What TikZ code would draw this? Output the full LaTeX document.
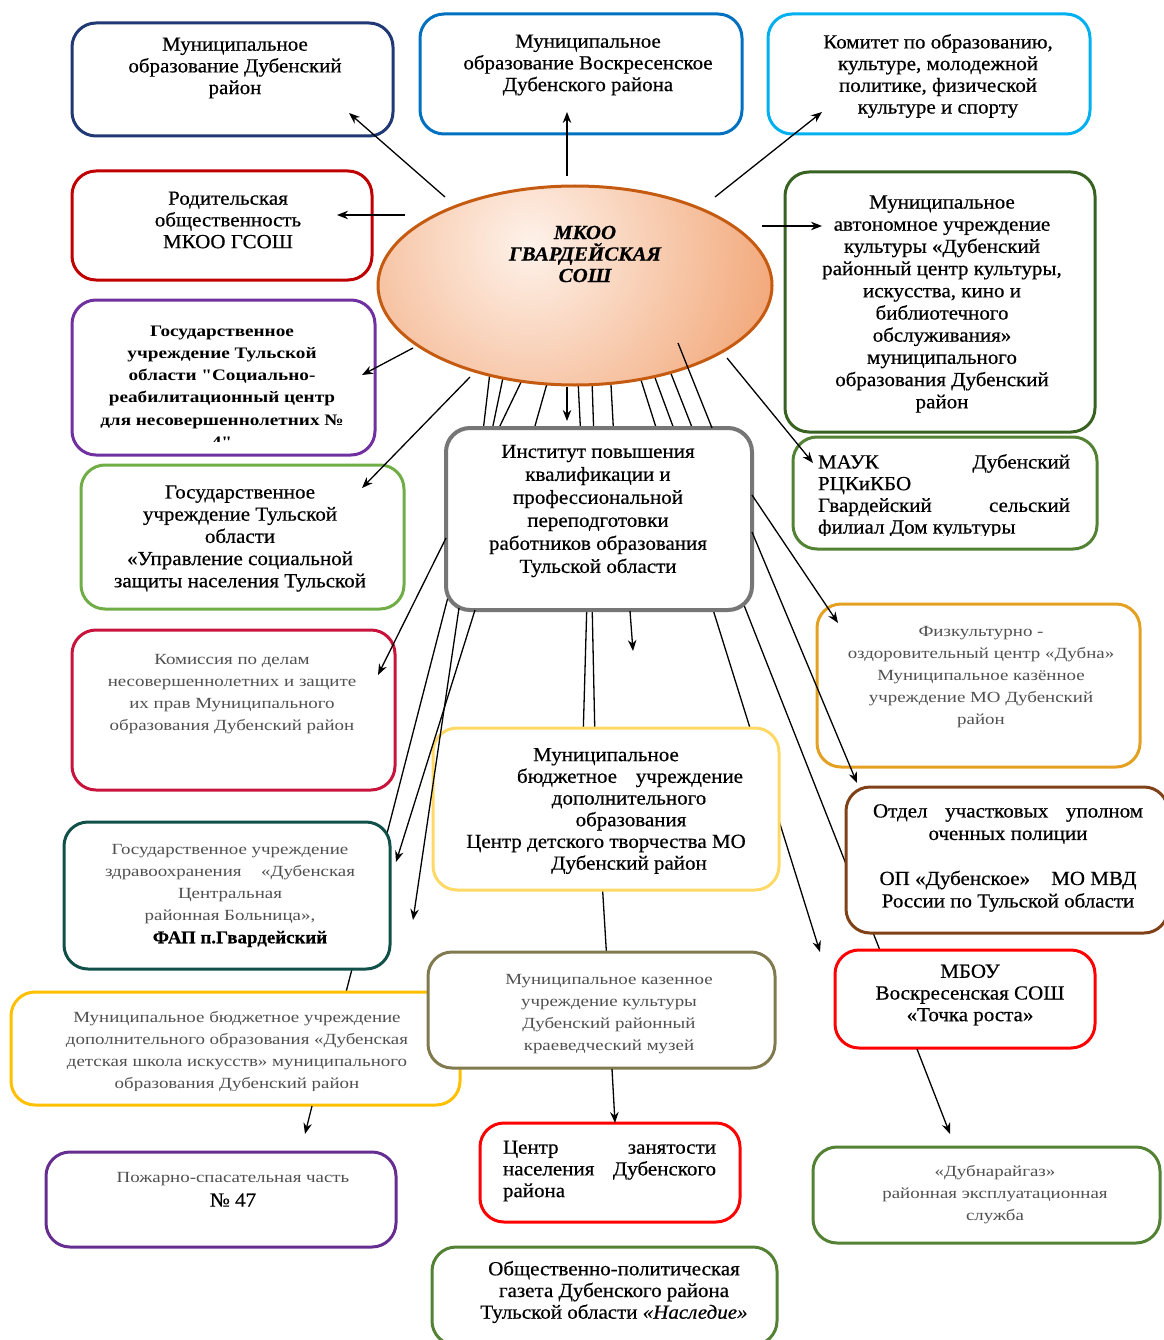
\documentclass[tikz,border=0pt]{standalone}
\usepackage{fontspec}
\setmainfont{Liberation Serif}[FakeStretch=1.05,FakeBold=0.5]
\newfontfamily\smfam{Liberation Serif}[FakeStretch=1.22]
\newfontfamily\bdfam{Liberation Serif}[FakeStretch=1.2]
\usetikzlibrary{shapes.geometric,arrows.meta}
\pgfdeclarelayer{bg}
\pgfsetlayers{bg,main}
\definecolor{cNavy}{RGB}{32,56,115}
\definecolor{cBlue}{RGB}{0,112,192}
\definecolor{cLBlue}{RGB}{0,176,240}
\definecolor{cDRed}{RGB}{192,0,0}
\definecolor{cDGreen}{RGB}{56,98,34}
\definecolor{cPurple}{RGB}{112,48,160}
\definecolor{cGray}{RGB}{118,118,118}
\definecolor{cGreen}{RGB}{84,130,53}
\definecolor{cLGreen}{RGB}{112,173,71}
\definecolor{cCrimson}{RGB}{200,20,60}
\definecolor{cGold}{RGB}{228,160,32}
\definecolor{cYellow}{RGB}{255,217,102}
\definecolor{cBrown}{RGB}{128,64,24}
\definecolor{cTeal}{RGB}{16,80,72}
\definecolor{cRed}{RGB}{255,0,0}
\definecolor{cOlive}{RGB}{128,122,78}
\definecolor{cAmber}{RGB}{255,192,0}
\definecolor{cDPurple}{RGB}{102,45,145}
\definecolor{cOrange}{RGB}{197,90,17}
\definecolor{cEllIn}{RGB}{254,242,234}
\definecolor{cEllOut}{RGB}{242,168,122}
\definecolor{txtgray}{RGB}{80,80,80}
\tikzset{
  box/.style={draw=#1, line width=3pt, rounded corners=24pt, fill=white, inner sep=0pt},
  tn/.style={font=\fontsize{20}{21.7}\selectfont, align=center, inner sep=0pt, text=black},
  ts/.style={font=\smfam\fontsize{15.5}{22}\selectfont, align=center, inner sep=0pt, text=txtgray},
  tb/.style={font=\bdfam\bfseries\fontsize{16}{22.2}\selectfont, align=center, inner sep=0pt, text=black},
  arr/.style={-{Stealth[length=11pt,width=8.5pt]}, line width=1.3pt},
  ln/.style={line width=1.3pt},
}
\begin{document}
\begin{tikzpicture}[x=1pt,y=-1pt]
\useasboundingbox (0,0) rectangle (1163,1340);
\begin{pgfonlayer}{bg}
\fill[white] (0,0) rectangle (1163,1340);
\end{pgfonlayer}

% ---------- boxes ----------
\node[box=cNavy, minimum width=321pt, minimum height=113pt] (mo) at (232.5,79.5) {};
\node[tn] (mot) at (235,68) {Муниципальное\\образование Дубенский\\район};

\node[box=cBlue, minimum width=322pt, minimum height=120pt] (vos) at (581,74) {};
\node[tn] (vost) at (588,65) {Муниципальное\\образование Воскресенское\\Дубенского района};

\node[box=cLBlue, minimum width=322pt, minimum height=120pt] (kom) at (929,74) {};
\node[tn] (komt) at (938,76) {Комитет по образованию,\\культуре, молодежной\\политике, физической\\культуре и спорту};

\node[box=cDRed, minimum width=300pt, minimum height=109pt] (rod) at (222,225.5) {};
\node[tn] (rodt) at (228,220) {Родительская\\общественность\\МКОО ГСОШ};

\node[box=cDGreen, minimum width=310pt, minimum height=260pt] (mauk) at (940,302) {};
\node[tn, font=\fontsize{20}{22.2}\selectfont] (maukt) at (942,304) {Муниципальное\\автономное учреждение\\культуры «Дубенский\\районный центр культуры,\\искусства, кино и\\библиотечного\\обслуживания»\\муниципального\\образования Дубенский\\район};

\node[box=cPurple, minimum width=303pt, minimum height=155pt] (soc) at (223.5,377.5) {};
\begin{scope}
\clip (70,290) rectangle (380,441);
\node[tb] (soct) at (222,386.5) {Государственное\\учреждение Тульской\\области "Социально-\\реабилитационный центр\\для несовершеннолетних №\\4"};
\end{scope}

\node[box=cGray, line width=4pt, minimum width=306pt, minimum height=182pt] (inst) at (599,519) {};
\node[tn, font=\fontsize{20}{23}\selectfont] (instt) at (598,511) {Институт повышения\\квалификации и\\профессиональной\\переподготовки\\работников образования\\Тульской области};

\node[box=cGreen, minimum width=304pt, minimum height=112pt] (dk) at (945,493) {};
\begin{scope}
\clip (790,440) rectangle (1100,535);
\node[tn] (dkt) at (944,496) {\hbox to 252pt{МАУК\hfill Дубенский}\\\hbox to 252pt{РЦКиКБО\hfill}\\\hbox to 252pt{Гвардейский\hfill сельский}\\\hbox to 252pt{филиал Дом культуры\hfill}};
\end{scope}

\node[box=cLGreen, minimum width=323pt, minimum height=144pt] (uszn) at (242.5,537) {};
\node[tn, font=\fontsize{20}{22.2}\selectfont] (usznt) at (240,538.5) {Государственное\\учреждение Тульской\\области\\«Управление социальной\\защиты населения Тульской};

\node[box=cCrimson, minimum width=323pt, minimum height=160pt] (kdn) at (233.5,710) {};
\node[ts] (kdnt) at (232,694) {Комиссия по делам\\несовершеннолетних и защите\\их прав Муниципального\\образования Дубенский район};

\node[box=cGold, minimum width=323pt, minimum height=163pt] (fok) at (978.5,685.5) {};
\node[ts] (fokt) at (981,677) {Физкультурно -\\оздоровительный центр «Дубна»\\Муниципальное казённое\\учреждение МО Дубенский\\район};

\node[box=cYellow, minimum width=346pt, minimum height=162pt] (cdt) at (606,809) {};
\node[tn] (cdtt) at (606,811) {Муниципальное\\\hspace*{48pt}\hbox to 226pt{бюджетное\hfill учреждение}\\\hspace*{46pt}дополнительного\\\hspace*{50pt}образования\\Центр детского творчества МО\\\hspace*{46pt}Дубенский район};

\node[box=cBrown, minimum width=322pt, minimum height=146pt] (pol) at (1007,860) {};
\node[tn, font=\fontsize{20}{22.5}\selectfont] (polt) at (1008,858) {\hbox to 270pt{Отдел\hfill участковых\hfill уполном}\\оченных полиции\\\mbox{}\\\hbox to 257pt{ОП «Дубенское»\hfill МО МВД}\\России по Тульской области};

\node[box=cTeal, minimum width=326pt, minimum height=147pt] (crb) at (227,895.5) {};
\node[ts] (crbt) at (230,884.5) {Государственное учреждение\\\hbox to 250pt{здравоохранения\hfill «Дубенская}\\Центральная\\районная Больница»,};
\node[tn, font=\bfseries\fontsize{18}{21}\selectfont] (crbt2) at (240,939) {ФАП п.Гвардейский};

\node[box=cRed, minimum width=260pt, minimum height=98pt] (mbou) at (965,999) {};
\node[tn] (mbout) at (970,995) {МБОУ\\Воскресенская СОШ\\«Точка роста»};

\node[box=cAmber, minimum width=449pt, minimum height=113pt] (dshi) at (235.5,1048.5) {};
\begin{scope}
\clip (10,990) rectangle (470,1090);
\node[ts] (dshit) at (237,1052) {Муниципальное бюджетное учреждение\\дополнительного образования «Дубенская\\детская школа искусств» муниципального\\образования Дубенский район};
\end{scope}

\node[box=cOlive, minimum width=347pt, minimum height=116pt] (mus) at (601.5,1010) {};
\node[ts] (must) at (609,1014) {Муниципальное казенное\\учреждение культуры\\Дубенский районный\\краеведческий музей};

\node[box=cDPurple, minimum width=350pt, minimum height=95pt] (pch) at (221,1199.5) {};
\node[ts] (pcht) at (233,1179) {Пожарно-спасательная часть};
\node[tn] (pcht2) at (233,1200) {№ 47};

\node[box=cRed, minimum width=260pt, minimum height=99pt] (czn) at (610,1172.5) {};
\node[tn] (cznt) at (609.5,1171) {\hbox to 213pt{Центр\hfill занятости}\\\hbox to 213pt{населения\hfill Дубенского}\\\hbox to 213pt{района\hfill}};

\node[box=cGreen, minimum width=347pt, minimum height=96pt] (gaz) at (986.5,1195) {};
\node[ts] (gazt) at (995,1195) {«Дубнарайгаз»\\районная эксплуатационная\\служба};

\node[box=cGreen, minimum width=345pt, minimum height=98pt] (news) at (604.5,1296) {};
\node[tn] (newst) at (614,1292) {Общественно-политическая\\газета Дубенского района\\Тульской области \textit{«Наследие»}};

% ---------- central ellipse ----------
\begin{scope}
\clip (575,285.5) ellipse [x radius=197pt, y radius=99.5pt];
\shade[inner color=cEllIn, outer color=cEllOut] (530,245) circle [radius=250pt];
\end{scope}
\node[ellipse, draw=cOrange, line width=3pt, minimum width=394pt, minimum height=199pt, inner sep=0pt] (sch) at (575,285.5) {};
\node[tn, font=\bfseries\itshape\fontsize{20}{21.5}\selectfont] (scht) at (585,254) {МКОО\\ГВАРДЕЙСКАЯ\\СОШ};

% ---------- connector end points ----------
\coordinate (s1) at (445,197);  \coordinate (e1) at (349,113);
\coordinate (s2) at (405,215);  \coordinate (e2) at (337,215);
\coordinate (s3) at (567,176);  \coordinate (e3) at (567,112);
\coordinate (s4) at (715,197);  \coordinate (e4) at (822,112);
\coordinate (s5) at (762,226);  \coordinate (e5) at (822,226);
\coordinate (s6) at (413,348);  \coordinate (e6) at (362,375);
\coordinate (s7) at (470,377);  \coordinate (e7) at (362,488);
\coordinate (s8) at (727,358);  \coordinate (e8) at (813,463);
\coordinate (s9) at (567,387);  \coordinate (e9) at (567,421);
\coordinate (s10) at (678,343); \coordinate (e10) at (712,428);
\coordinate (s11) at (446,538); \coordinate (e11) at (378,675);
\coordinate (s12) at (630,611); \coordinate (e12) at (633,651);
\coordinate (s13) at (612,1069); \coordinate (e13) at (615,1123);
\coordinate (s14) at (312,1106); \coordinate (e14) at (305,1134);
\coordinate (s15) at (917,1049); \coordinate (e15) at (950,1134);
\coordinate (sG) at (459,608);  \coordinate (eG) at (413,920);
\coordinate (sF) at (475,610);  \coordinate (eF) at (396,862);
\coordinate (sD) at (752,495);  \coordinate (eD) at (838,623);
\coordinate (sA) at (752,532);  \coordinate (eA) at (857,783);

% ---------- connectors on top ----------
\foreach \i in {1,2,3,4,5,6,7,8,9,11,12,13,14,15,G,F,D,A}
  \draw[arr] (s\i) -- (e\i);
\draw[ln] (s10) -- (e10);

% ---------- connectors passing behind boxes ----------
\begin{pgfonlayer}{bg}
\foreach \xa/\ya/\xb/\yb in {490/372/482/440, 505/368/490/440, 523/378/446/538, 548/380/531/440, 578/380/581/440, 592/380/594/440, 611/385/614/440, 641/380/660/440, 654/375/678/440, 668/366/697/440, 455/570/344/1000, 587/600/583/740, 592/600/595/740, 740/595/883/958, 602/880/607/962}
  \draw[ln] (\xa,\ya) -- (\xb,\yb);
\coordinate (sB) at (710,600); \coordinate (eB) at (820,952);
\draw[arr] (sB) -- (eB);
\end{pgfonlayer}
\end{tikzpicture}
\end{document}
